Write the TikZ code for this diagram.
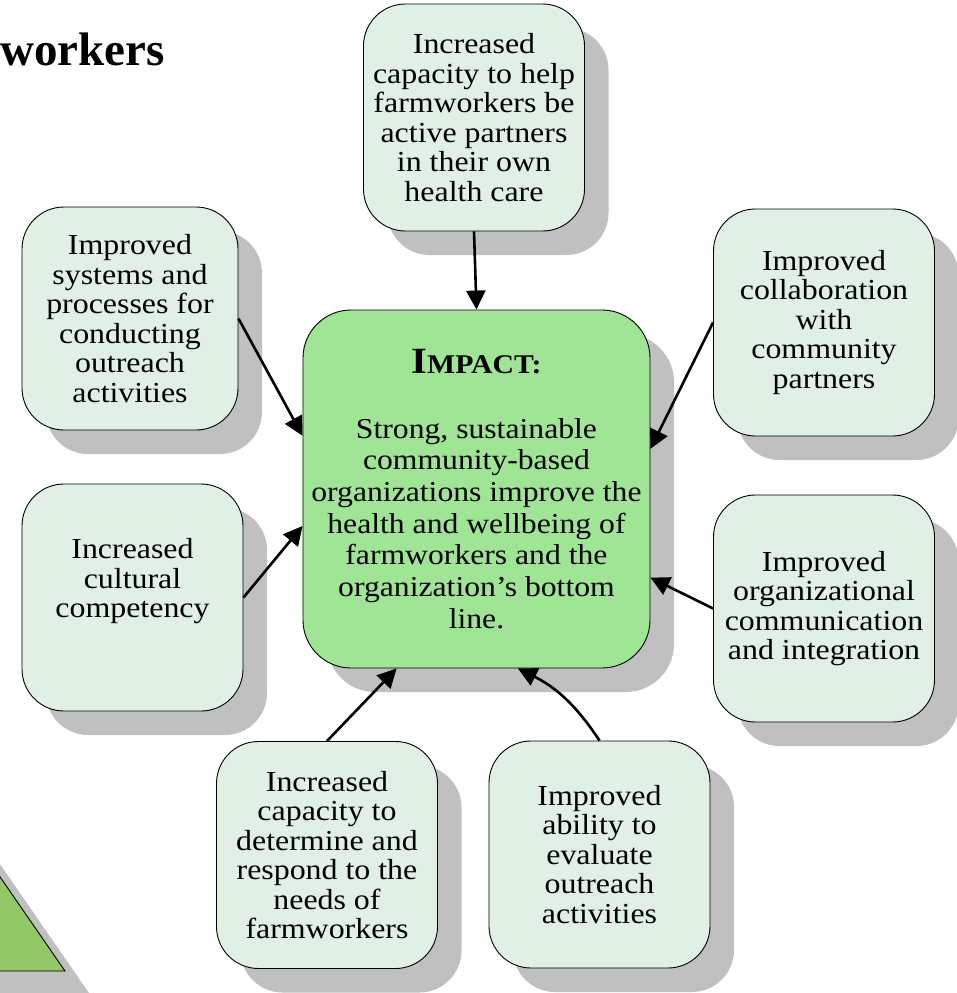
\documentclass[tikz,border=0pt]{standalone}
\usepackage{fontspec}
\setmainfont{Liberation Serif}
\newfontfamily\bodyfont[FakeStretch=1.1]{Liberation Serif}
\usetikzlibrary{arrows.meta,shadows}
\definecolor{boxgreen}{RGB}{224,240,228}
\definecolor{coregreen}{RGB}{160,228,150}
\definecolor{trigreen}{RGB}{146,200,102}
\definecolor{shade}{RGB}{192,192,192}
\lineskiplimit=-100pt

\begin{document}
\begin{tikzpicture}[x=1pt,y=-1pt,
    outcome/.style={draw=black, line width=0.9pt, fill=boxgreen, rounded corners=42pt,
      minimum width=221pt, minimum height=227pt, inner sep=0pt, align=center,
      font=\bodyfont\fontsize{29}{29.5}\selectfont,
      drop shadow={shadow xshift=24pt, shadow yshift=-24pt, fill=shade, opacity=1}},
    goal/.style={outcome, fill=coregreen, minimum width=347pt, minimum height=358pt,
      rounded corners=48pt, font=\bodyfont\fontsize{28.8}{31.7}\selectfont},
    feed/.style={line width=2.6pt, -{Triangle[length=19pt,width=19pt]}}]
    \useasboundingbox (0,0) rectangle (957,993);

    % title and corner triangle
    \node[anchor=base west, inner sep=0pt, font=\fontsize{47}{50}\selectfont\bfseries] (title) at (0,65) {workers};
    \draw[fill=trigreen, line width=0.9pt,
      drop shadow={shadow xshift=24pt, shadow yshift=-22pt, fill=shade, opacity=1}]
      (-80,761) -- (65,971) -- (-80,971) -- cycle;

    % centre
    \node[goal] (impact) at (476.5,489) {{\fontsize{37}{37}\selectfont\bfseries I}{\fontsize{27}{27}\selectfont\bfseries MPACT:}\\[33pt]
      Strong, sustainable\\ community-based\\ organizations improve the\\ health and wellbeing of\\
      farmworkers and the\\ organization’s bottom\\ line.};

    % outcomes
    \node[outcome] (care) at (474,117.5) {Increased\\ capacity to help\\ farmworkers be\\ active partners\\ in their own\\ health care};
    \node[outcome, minimum width=216pt, minimum height=223pt] (systems) at (130,318.5) {Improved\\ systems and\\ processes for\\ conducting\\ outreach\\ activities};
    \node[outcome] (culture) at (132.5,597.5) {Increased\\ cultural\\ competency\\ \strut};
    \node[outcome] (partners) at (824,322.5) {Improved\\ collaboration\\ with\\ community\\ partners};
    \node[outcome] (comm) at (824,608.5) {Improved\\ organizational\\ communication\\ and integration};
    \node[outcome] (needs) at (327,855) {Increased\\ capacity to\\ determine and\\ respond to the\\ needs of\\ farmworkers};
    \node[outcome] (evalu) at (599.5,854.5) {Improved\\ ability to\\ evaluate\\ outreach\\ activities};

    % arrows into the centre
    \draw[feed] (care.south) -- (impact.90);
    \draw[feed] (systems.east) -- (impact.163.3);
    \draw[feed] (culture.east) -- (impact.192.4);
    \draw[feed] (partners.west) -- (impact.13.6);
    \draw[feed] (comm.west) -- (impact.333.6);
    \draw[feed] (needs.north) -- (impact.246);
    \draw[feed] (evalu.north) to[bend right=15] (impact.283.7);
\end{tikzpicture}
\end{document}
